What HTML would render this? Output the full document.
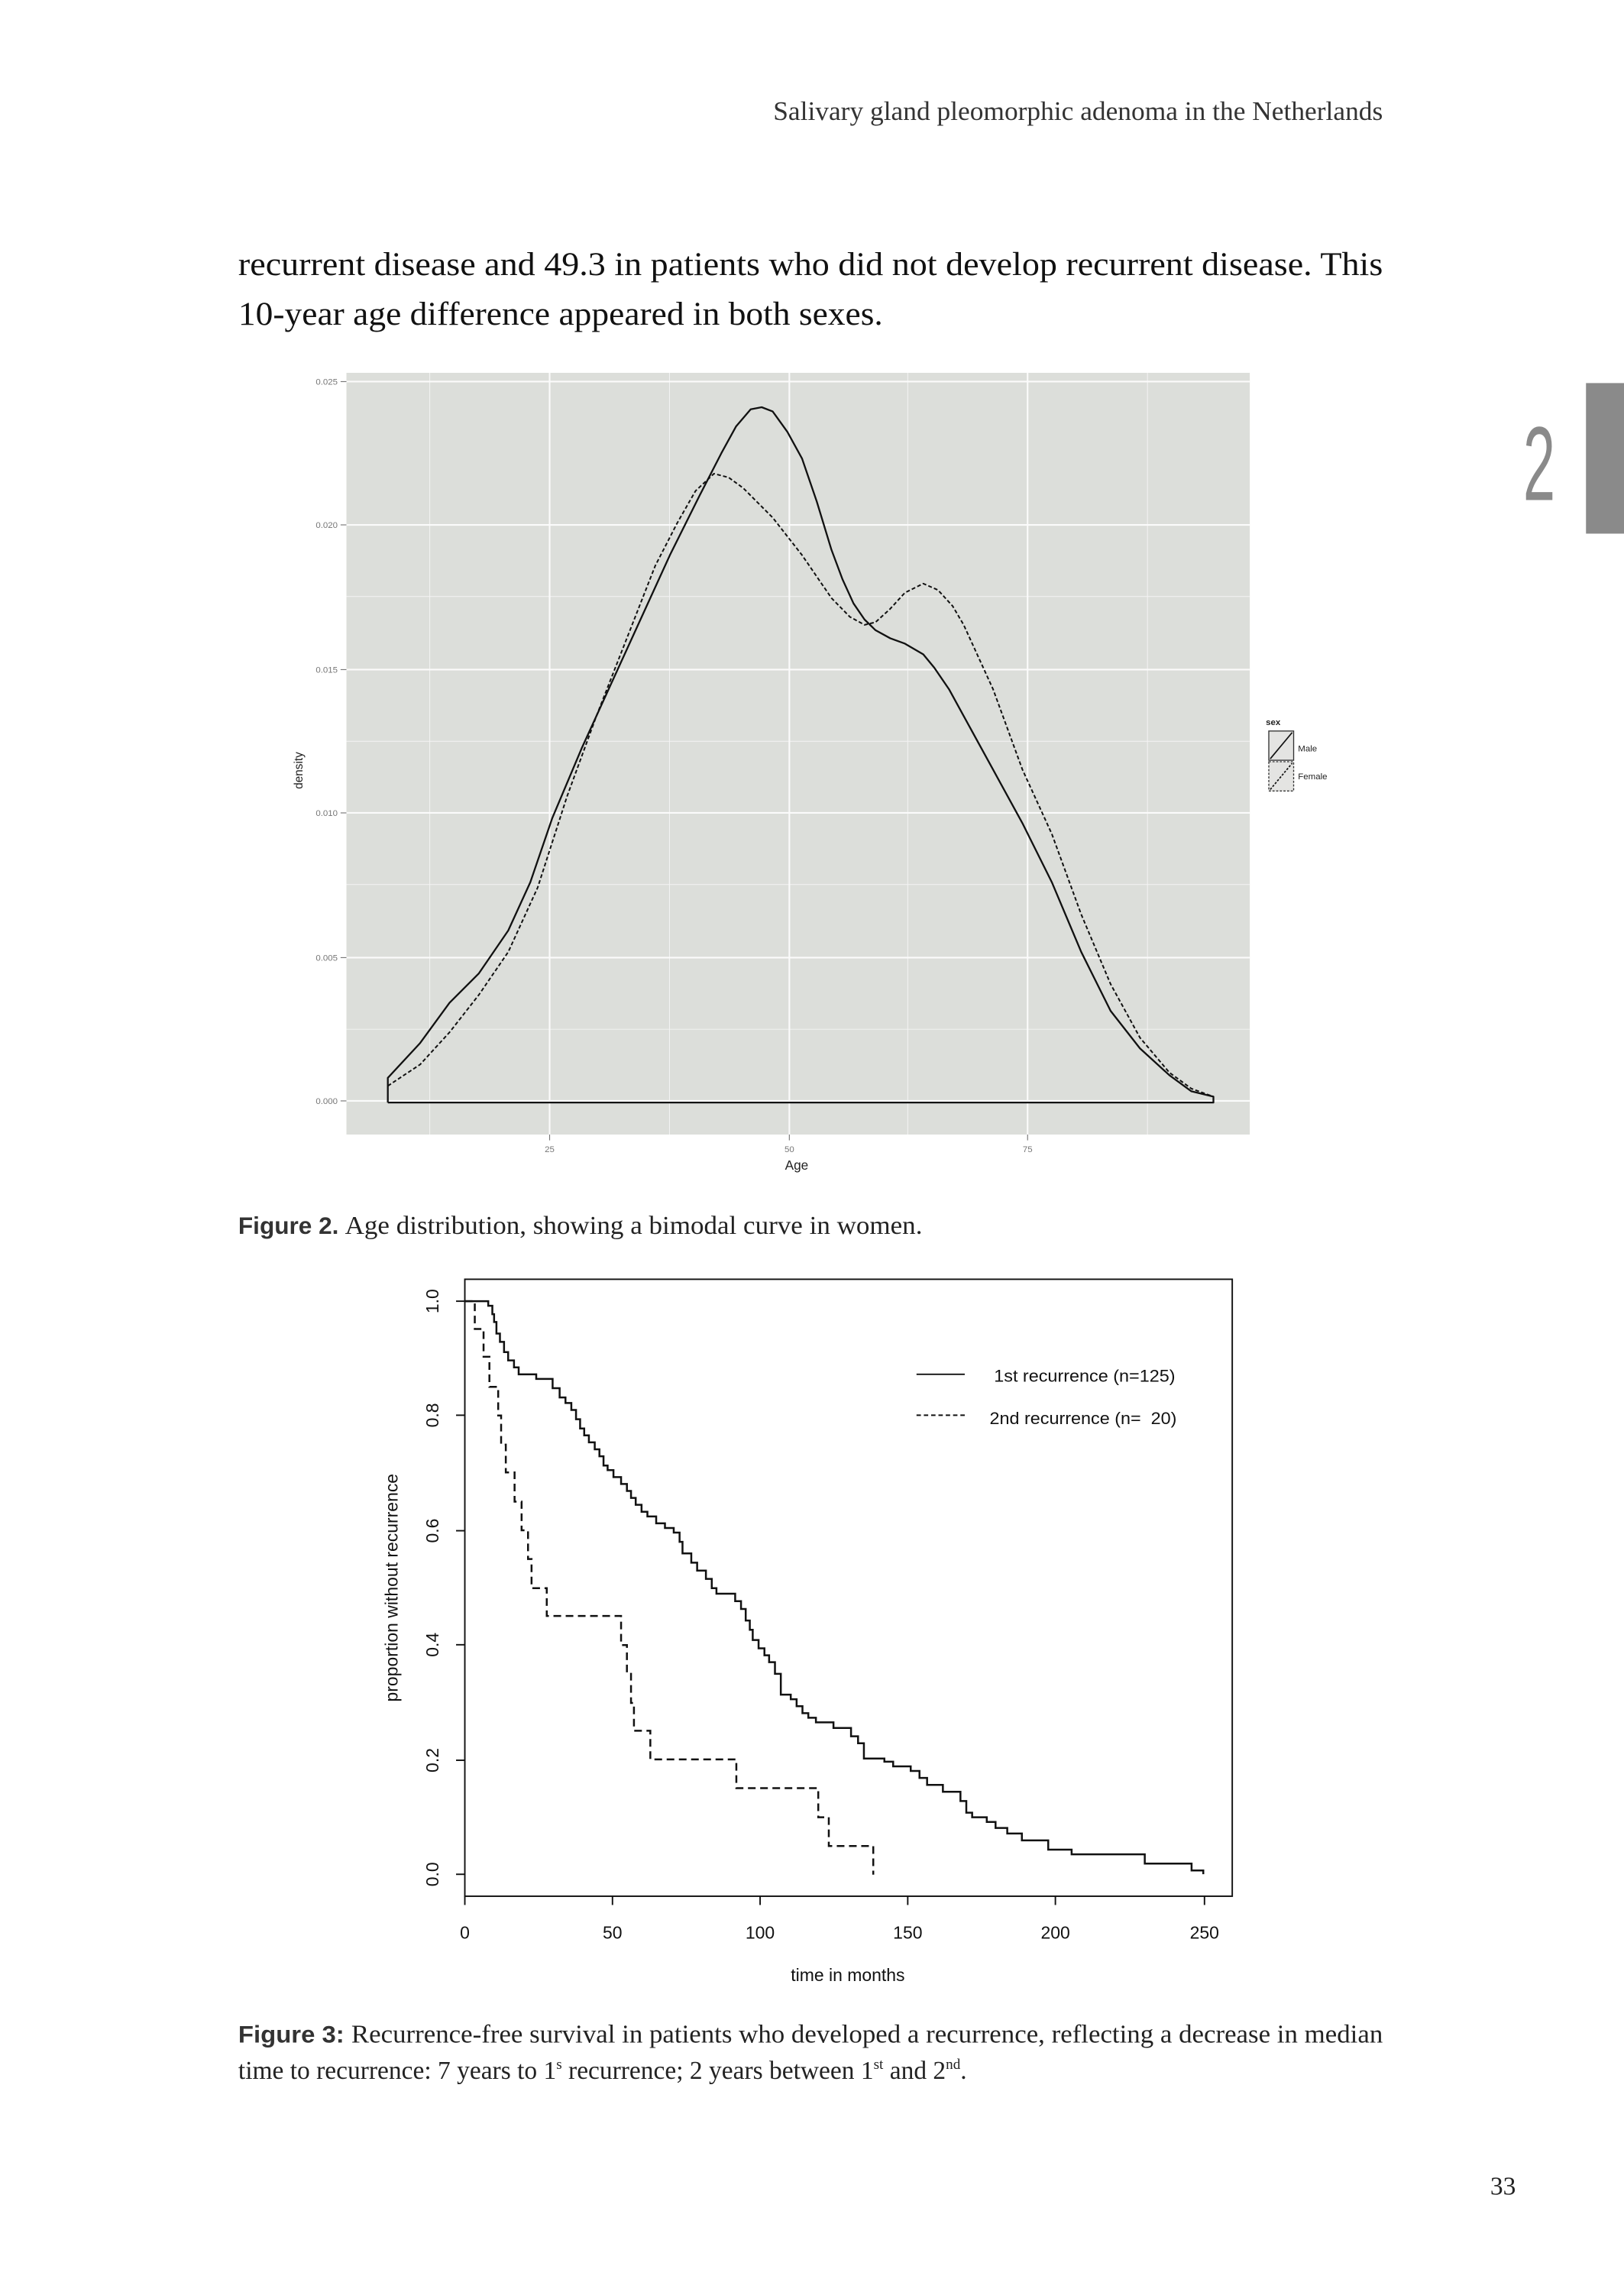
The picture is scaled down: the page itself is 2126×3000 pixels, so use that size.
<!DOCTYPE html>
<html><head><meta charset="utf-8"><style>
html,body{margin:0;padding:0;background:#fff;}
svg{display:block;}
.serif{font-family:"Liberation Serif",serif;}
.sans{font-family:"Liberation Sans",sans-serif;}
</style></head><body>
<svg width="2126" height="3000" viewBox="0 0 1111 1567.7" xmlns="http://www.w3.org/2000/svg">
<rect width="1111" height="1567.7" fill="#fff"/>
<text x="946" y="82" text-anchor="end" class="serif" font-size="18.5" fill="#333">Salivary gland pleomorphic adenoma in the Netherlands</text>
<text x="163" y="188" class="serif" font-size="22.5" fill="#111" textLength="783" lengthAdjust="spacingAndGlyphs">recurrent disease and 49.3 in patients who did not develop recurrent disease. This</text>
<text x="163" y="222" class="serif" font-size="22.5" fill="#111" textLength="441" lengthAdjust="spacingAndGlyphs">10-year age difference appeared in both sexes.</text>
<rect x="1085" y="262" width="26" height="103" fill="#8a8a8a"/>
<text x="1053" y="342" text-anchor="middle" class="sans" font-size="72" font-weight="100" fill="#8a8a8a" transform="translate(1053,342) scale(0.55,1) translate(-1053,-342)">2</text>

<rect x="237" y="255" width="618" height="521" fill="#dcdeda"/>
<g stroke="#f4f4f4" stroke-width="0.5">
<line x1="237" x2="855" y1="408" y2="408"/><line x1="237" x2="855" y1="507" y2="507"/><line x1="237" x2="855" y1="605" y2="605"/><line x1="237" x2="855" y1="704" y2="704"/>
<line x1="294" x2="294" y1="255" y2="776"/><line x1="458" x2="458" y1="255" y2="776"/><line x1="621" x2="621" y1="255" y2="776"/><line x1="785" x2="785" y1="255" y2="776"/>
</g>
<g stroke="#fbfbfb" stroke-width="1.1">
<line x1="237" x2="855" y1="261" y2="261"/><line x1="237" x2="855" y1="359" y2="359"/><line x1="237" x2="855" y1="458" y2="458"/><line x1="237" x2="855" y1="556" y2="556"/><line x1="237" x2="855" y1="655" y2="655"/><line x1="237" x2="855" y1="753" y2="753"/>
<line x1="376" x2="376" y1="255" y2="776"/><line x1="540" x2="540" y1="255" y2="776"/><line x1="703" x2="703" y1="255" y2="776"/>
</g>
<g class="sans" font-size="6" fill="#777" text-anchor="end">
<text x="231" y="263">0.025</text><text x="231" y="361">0.020</text><text x="231" y="460">0.015</text><text x="231" y="558">0.010</text><text x="231" y="657">0.005</text><text x="231" y="755">0.000</text>
</g>
<g stroke="#777" stroke-width="0.6">
<line x1="233" x2="237" y1="261" y2="261"/><line x1="233" x2="237" y1="359" y2="359"/><line x1="233" x2="237" y1="458" y2="458"/><line x1="233" x2="237" y1="556" y2="556"/><line x1="233" x2="237" y1="655" y2="655"/><line x1="233" x2="237" y1="753" y2="753"/>
<line x1="376" x2="376" y1="776" y2="780"/><line x1="540" x2="540" y1="776" y2="780"/><line x1="703" x2="703" y1="776" y2="780"/>
</g>
<g class="sans" font-size="6" fill="#777" text-anchor="middle">
<text x="376" y="788">25</text><text x="540" y="788">50</text><text x="703" y="788">75</text>
</g>
<text x="545" y="800" class="sans" font-size="9" text-anchor="middle" fill="#222">Age</text>
<text x="0" y="0" class="sans" font-size="8" text-anchor="middle" fill="#222" transform="translate(207,527) rotate(-90)">density</text>
<g transform="translate(156.77,240.38) scale(0.5025,0.3667)" fill="none" stroke="#111">
<polyline vector-effect="non-scaling-stroke" stroke-width="2.3" stroke-linejoin="round" points="216,1401 216,1355 260,1290 300,1215 340,1160 380,1080 410,990 440,870 480,740 520,620 560,500 600,380 640,270 670,190 690,140 710,108 725,104 740,112 760,150 780,200 800,280 820,370 835,425 850,470 865,500 880,520 900,535 920,545 945,565 960,590 980,630 1000,680 1040,780 1080,880 1120,990 1160,1120 1200,1230 1240,1300 1280,1350 1310,1380 1340,1390 1340,1401 216,1401"/>
<polyline vector-effect="non-scaling-stroke" stroke-width="2" stroke-dasharray="5,3" stroke-linejoin="round" points="216,1370 260,1330 300,1270 340,1200 380,1120 420,1000 460,830 500,680 540,540 580,400 610,320 635,260 660,228 680,235 700,255 740,310 780,380 820,460 845,495 865,510 880,505 900,480 920,450 945,433 965,445 985,475 1000,510 1040,630 1080,780 1120,900 1160,1050 1200,1180 1240,1280 1280,1345 1310,1375 1340,1390"/>
</g>
<text x="866" y="496" class="sans" font-size="6" font-weight="bold" fill="#222">sex</text>
<rect x="868" y="500" width="17" height="20" fill="#e4e4e2" stroke="#333" stroke-width="0.7"/>
<line x1="869" y1="519" x2="884" y2="501" stroke="#111" stroke-width="0.9"/>
<rect x="868" y="521" width="17" height="20" fill="#e4e4e2" stroke="#333" stroke-width="0.7" stroke-dasharray="1.5,1"/>
<line x1="869" y1="540" x2="884" y2="522" stroke="#111" stroke-width="0.9" stroke-dasharray="1.5,1"/>
<text x="888" y="514" class="sans" font-size="6" fill="#222">Male</text>
<text x="888" y="533" class="sans" font-size="6" fill="#222">Female</text>

<text x="163" y="844" class="sans" font-size="16.5" font-weight="bold" fill="#333">Figure 2.</text>
<text x="236" y="844" class="serif" font-size="17.5" fill="#222" textLength="395" lengthAdjust="spacingAndGlyphs">Age distribution, showing a bimodal curve in women.</text>

<rect x="318" y="875" width="525" height="422" fill="none" stroke="#111" stroke-width="1"/>
<g stroke="#111" stroke-width="1">
<line x1="318" x2="318" y1="1297" y2="1303"/><line x1="419" x2="419" y1="1297" y2="1303"/><line x1="520" x2="520" y1="1297" y2="1303"/><line x1="621" x2="621" y1="1297" y2="1303"/><line x1="722" x2="722" y1="1297" y2="1303"/><line x1="824" x2="824" y1="1297" y2="1303"/>
<line x1="312" x2="318" y1="890" y2="890"/><line x1="312" x2="318" y1="968" y2="968"/><line x1="312" x2="318" y1="1047" y2="1047"/><line x1="312" x2="318" y1="1125" y2="1125"/><line x1="312" x2="318" y1="1204" y2="1204"/><line x1="312" x2="318" y1="1282" y2="1282"/>
</g>
<g class="sans" font-size="12" fill="#111" text-anchor="middle">
<text x="318" y="1326">0</text><text x="419" y="1326">50</text><text x="520" y="1326">100</text><text x="621" y="1326">150</text><text x="722" y="1326">200</text><text x="824" y="1326">250</text>
<text transform="translate(300,890) rotate(-90)">1.0</text>
<text transform="translate(300,968) rotate(-90)">0.8</text>
<text transform="translate(300,1047) rotate(-90)">0.6</text>
<text transform="translate(300,1125) rotate(-90)">0.4</text>
<text transform="translate(300,1204) rotate(-90)">0.2</text>
<text transform="translate(300,1282) rotate(-90)">0.0</text>
<text x="580" y="1355">time in months</text>
<text transform="translate(272,1086) rotate(-90)">proportion without recurrence</text>
</g>
<line x1="627" x2="660" y1="940" y2="940" stroke="#111" stroke-width="1"/>
<line x1="627" x2="660" y1="968" y2="968" stroke="#111" stroke-width="1" stroke-dasharray="3,2"/>
<text x="680" y="945" class="sans" font-size="11.5" fill="#111" textLength="124" lengthAdjust="spacingAndGlyphs">1st recurrence (n=125)</text>
<text x="677" y="974" class="sans" font-size="11.5" fill="#111" xml:space="preserve" textLength="128" lengthAdjust="spacingAndGlyphs">2nd recurrence (n=  20)</text>
<g transform="translate(234.74,861.5) scale(0.4003,0.3166)" fill="none" stroke="#111">
<polyline vector-effect="non-scaling-stroke" stroke-width="2.5" points="208,90 248,90 248,100 255,100 255,118 258,118 258,135 262,135 262,160 268,160 268,178 275,178 275,200 282,200 282,218 292,218 292,233 300,233 300,248 330,248 330,258 358,258 358,278 370,278 370,298 380,298 380,310 390,310 390,325 398,325 398,345 405,345 405,365 412,365 412,380 420,380 420,395 430,395 430,410 438,410 438,425 445,425 445,445 452,445 452,455 462,455 462,470 475,470 475,485 485,485 485,500 492,500 492,515 500,515 500,530 510,530 510,545 520,545 520,555 535,555 535,570 550,570 550,580 565,580 565,590 575,590 575,610 580,610 580,635 595,635 595,655 605,655 605,672 620,672 620,690 630,690 630,710 638,710 638,722 670,722 670,738 680,738 680,755 688,755 688,780 695,780 695,800 700,800 700,822 710,822 710,840 720,840 720,855 728,855 728,870 738,870 738,895 748,895 748,940 765,940 765,950 775,950 775,965 785,965 785,980 795,980 795,990 808,990 808,1000 838,1000 838,1012 868,1012 868,1030 880,1030 880,1045 890,1045 890,1078 925,1078 925,1085 940,1085 940,1095 970,1095 970,1105 985,1105 985,1120 998,1120 998,1135 1025,1135 1025,1150 1055,1150 1055,1170 1065,1170 1065,1195 1075,1195 1075,1205 1100,1205 1100,1215 1115,1215 1115,1228 1135,1228 1135,1240 1160,1240 1160,1255 1205,1255 1205,1275 1245,1275 1245,1285 1370,1285 1370,1305 1450,1305 1450,1320 1470,1320 1470,1328"/>
<polyline vector-effect="non-scaling-stroke" stroke-width="2.5" stroke-dasharray="10,6" points="208,90 225,90 225,150 240,150 240,210 250,210 250,275 265,275 265,337 270,337 270,400 278,400 278,460 293,460 293,523 305,523 305,585 316,585 316,647 322,647 322,710 348,710 348,770 475,770 475,833 485,833 485,895 492,895 492,958 497,958 497,1018 525,1018 525,1080 672,1080 672,1142 812,1142 812,1205 830,1205 830,1267 906,1267 906,1329"/>
</g>

<text x="163" y="1397" class="serif" font-size="17.5" fill="#222" textLength="783" lengthAdjust="spacingAndGlyphs"><tspan class="sans" font-weight="bold" font-size="16.5" fill="#333">Figure 3: </tspan>Recurrence-free survival in patients who developed a recurrence, reflecting a decrease in median</text>
<text x="163" y="1422" class="serif" font-size="17.5" fill="#222">time to recurrence: 7 years to 1<tspan font-size="10" dy="-7">s</tspan><tspan dy="7"> recurrence; 2 years between 1</tspan><tspan font-size="10" dy="-7">st</tspan><tspan dy="7"> and 2</tspan><tspan font-size="10" dy="-7">nd</tspan><tspan dy="7">.</tspan></text>
<text x="1037" y="1501" text-anchor="end" class="serif" font-size="17.5" fill="#222">33</text>
</svg>
</body></html>
